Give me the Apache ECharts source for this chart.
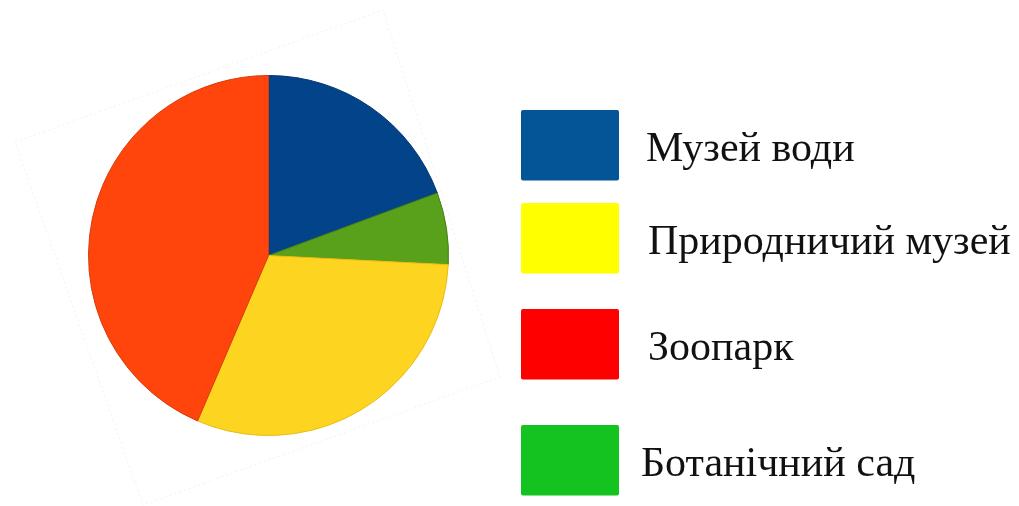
<!DOCTYPE html>
<html>
<head>
<meta charset="utf-8">
<script src="https://cdn.jsdelivr.net/npm/echarts@6/dist/echarts.min.js"></script>
<style>
  html, body { margin: 0; padding: 0; background: #ffffff; }
  #chart { width: 1019px; height: 506px; }
</style>
</head>
<body>
<div id="chart"></div>
<script>
// Places visited (number of pupils)
const categories = ['Музей води', 'Ботанічний сад', 'Природничий музей', 'Зоопарк'];
const values = [12, 4, 19, 27];
const sliceColors = ['#03438a', '#59a01b', '#fdd420', '#ff450c'];
const sliceEdges = ['#02366e', '#477f15', '#e8bd10', '#d93a08'];

// Legend order and swatch colours
const legendOrder = ['Музей води', 'Природничий музей', 'Зоопарк', 'Ботанічний сад'];
const legendColors = ['#035597', '#ffff00', '#ff0000', '#14c320'];
const legendTops = [110, 203, 309, 425];
const legendTextPad = [22, 24, 24, 17];

const chart = echarts.init(document.getElementById('chart'), null, { renderer: 'canvas' });

const legends = legendOrder.map((name, i) => ({
  left: 521,
  top: legendTops[i],
  padding: 0,
  orient: 'vertical',
  selectedMode: false,
  itemWidth: 98,
  itemHeight: 72,
  icon: 'path://M2,0 L98,0 Q100,0 100,2 L100,70 Q100,72 98,72 L2,72 Q0,72 0,70 L0,2 Q0,0 2,0 Z',
  data: [{ name: name, itemStyle: { color: legendColors[i], borderWidth: 0 } }],
  formatter: '{t|{name}}',
  textStyle: {
    rich: {
      t: {
        fontFamily: '"Liberation Serif", "DejaVu Serif", serif',
        fontSize: 42,
        color: '#111111',
        padding: [10, 0, 0, legendTextPad[i]]
      }
    }
  }
}));

chart.setOption({
  animation: false,
  backgroundColor: '#ffffff',
  graphic: [{
    type: 'polygon',
    z: -1,
    shape: { points: [[15, 142], [383, 10], [500, 377], [143, 505]] },
    style: { fill: '#ffffff', stroke: '#f2f2f2', lineWidth: 1, lineDash: [2, 3] }
  }],
  legend: legends,
  series: [{
    type: 'pie',
    center: [268.5, 255.5],
    radius: 180,
    startAngle: 90,
    clockwise: true,
    label: { show: false },
    labelLine: { show: false },
    emphasis: { disabled: true },
    data: categories.map((name, i) => ({
      name: name,
      value: values[i],
      itemStyle: { color: sliceColors[i], borderColor: sliceEdges[i], borderWidth: 1 }
    }))
  }]
});
</script>
</body>
</html>
